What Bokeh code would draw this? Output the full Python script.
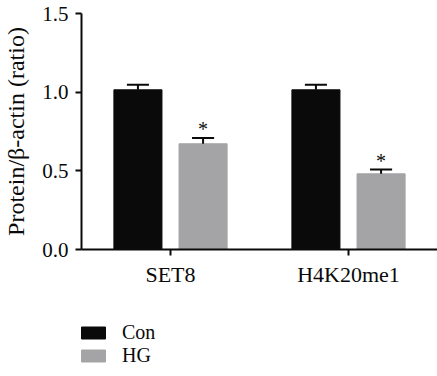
from bokeh.plotting import figure
from bokeh.models import Range1d, FixedTicker, Legend, LegendItem
from bokeh.layouts import column
from bokeh.embed import file_html
from bokeh.resources import INLINE
from bokeh.core.properties import value

categories = ["SET8", "H4K20me1"]
con_vals = [1.015, 1.015]
con_err = [0.032, 0.032]
hg_vals = [0.672, 0.481]
hg_err = [0.036, 0.027]
y_ticks = [0.0, 0.5, 1.0, 1.5]
series_names = ["Con", "HG"]

FONT = "Liberation Serif"
BLACK = "#0a0a0a"
GRAY = "#a4a4a7"

centers = [i + 0.5 for i in range(len(categories))]
off = 0.183
bw = 0.27
cap = 0.062

p = figure(width=437, height=300, output_backend="svg", toolbar_location=None,
           x_range=Range1d(0, 2), y_range=Range1d(0, 1.5),
           min_border_left=81, min_border_right=0, min_border_top=13, min_border_bottom=51)
p.outline_line_color = None
p.xgrid.visible = False
p.ygrid.visible = False

con_x = [c - off for c in centers]
hg_x = [c + off for c in centers]

r_con = p.vbar(x=con_x, top=con_vals, width=bw, fill_color=BLACK, line_color=BLACK)
r_hg = p.vbar(x=hg_x, top=hg_vals, width=bw, fill_color=GRAY, line_color=GRAY)

for xs, vals, errs in [(con_x, con_vals, con_err), (hg_x, hg_vals, hg_err)]:
    tops = [v + e for v, e in zip(vals, errs)]
    p.segment(x0=xs, y0=vals, x1=xs, y1=tops, line_color=BLACK, line_width=2)
    p.segment(x0=[x - cap for x in xs], y0=tops, x1=[x + cap for x in xs], y1=tops,
              line_color=BLACK, line_width=2)

star_y = [v + e for v, e in zip(hg_vals, hg_err)]
p.text(x=hg_x, y=star_y, text=["*", "*"], text_align="center", text_baseline="bottom",
       text_font=value(FONT), text_font_size="20px", text_color=BLACK, y_offset=2)

p.yaxis.ticker = FixedTicker(ticks=y_ticks)
p.yaxis.major_label_overrides = {t: f"{t:.1f}" for t in y_ticks}
p.yaxis.minor_tick_line_color = None
p.yaxis.major_tick_in = 0
p.yaxis.major_tick_out = 6
p.yaxis.axis_line_width = 2
p.yaxis.major_tick_line_width = 2
p.yaxis.major_label_standoff = 7
p.yaxis.axis_label = "Protein/β-actin (ratio)"
p.yaxis.axis_label_standoff = 10
p.yaxis.axis_label_text_font = FONT
p.yaxis.axis_label_text_font_style = "normal"
p.yaxis.axis_label_text_font_size = "24px"
p.yaxis.major_label_text_font = FONT
p.yaxis.major_label_text_font_size = "21px"
p.yaxis.axis_line_color = BLACK
p.yaxis.major_tick_line_color = BLACK
p.yaxis.major_label_text_color = BLACK
p.yaxis.axis_label_text_color = BLACK

p.xaxis.ticker = FixedTicker(ticks=centers)
p.xaxis.major_label_overrides = {c: n for c, n in zip(centers, categories)}
p.xaxis.minor_tick_line_color = None
p.xaxis.major_tick_in = 0
p.xaxis.major_tick_out = 6
p.xaxis.axis_line_width = 2
p.xaxis.major_tick_line_width = 2
p.xaxis.major_label_standoff = 6
p.xaxis.major_label_text_font = FONT
p.xaxis.major_label_text_font_size = "22px"
p.xaxis.axis_line_color = BLACK
p.xaxis.major_tick_line_color = BLACK
p.xaxis.major_label_text_color = BLACK

# legend panel below the chart
nan = float("nan")
lf = figure(width=437, height=76, output_backend="svg", toolbar_location=None,
            x_range=Range1d(0, 1), y_range=Range1d(0, 1),
            x_axis_location=None, y_axis_location=None,
            min_border_left=0, min_border_right=0, min_border_top=0, min_border_bottom=0)
lf.outline_line_color = None
lf.xgrid.visible = False
lf.ygrid.visible = False
l_con = lf.vbar(x=[nan], top=[nan], width=0.1, fill_color=BLACK, line_color=BLACK)
l_hg = lf.vbar(x=[nan], top=[nan], width=0.1, fill_color=GRAY, line_color=GRAY)

legend = Legend(items=[LegendItem(label=series_names[0], renderers=[l_con]),
                       LegendItem(label=series_names[1], renderers=[l_hg])],
                location=(-3, 9), orientation="vertical",
                glyph_width=30, glyph_height=15, label_height=20, spacing=0,
                label_standoff=14, padding=0, margin=0,
                border_line_color=None, background_fill_alpha=0,
                label_text_font=FONT, label_text_font_size="20px", label_text_color=BLACK)
lf.add_layout(legend, "center")

open("out.html", "w").write(file_html(column(p, lf), INLINE))
